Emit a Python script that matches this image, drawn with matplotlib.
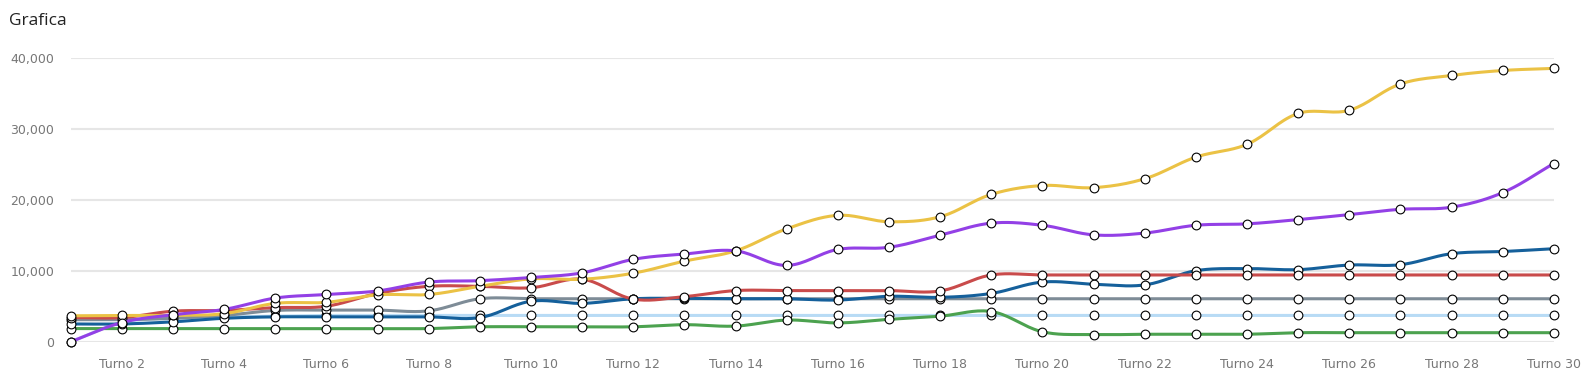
import matplotlib.pyplot as plt
import numpy as np

turns = list(range(1, 31))
tick_turns = list(range(2, 31, 2))
tick_labels = ['Turno %d' % t for t in tick_turns]

yellow = [3650, 3700, 3700, 3950, 5400, 5550, 6600, 6650, 7800, 8850,
          8800, 9650, 11350, 12800, 15900, 17800, 16900, 17600, 20750, 22000,
          21700, 22950, 26000, 27800, 32150, 32600, 36300, 37500, 38200, 38500]
purple = [0, 2700, 3800, 4550, 6150, 6650, 7150, 8400, 8600, 9050,
          9700, 11600, 12350, 12800, 10750, 13000, 13300, 15000, 16700, 16400,
          15050, 15300, 16400, 16600, 17200, 17900, 18650, 18950, 21000, 25100]
darkblue = [2500, 2500, 2800, 3300, 3500, 3500, 3500, 3500, 3400, 5700,
            5400, 6050, 6100, 6050, 6050, 5870, 6400, 6250, 6800, 8400,
            8100, 8000, 10000, 10300, 10150, 10800, 10850, 12400, 12700, 13100]
red = [3400, 3400, 4300, 4400, 4800, 5000, 6800, 7800, 7800, 7600,
       8800, 6000, 6350, 7200, 7200, 7200, 7200, 7150, 9400, 9400,
       9400, 9400, 9400, 9400, 9400, 9400, 9400, 9400, 9400, 9400]
gray = [3100, 3100, 3300, 3700, 4400, 4450, 4450, 4350, 6050, 6050,
        6050, 6050, 6050, 6050, 6050, 6050, 6050, 6050, 6050, 6050,
        6050, 6050, 6050, 6050, 6050, 6050, 6050, 6050, 6050, 6050]
lightblue = [0, 2700, 3300, 3500, 3600, 3700, 3700, 3700, 3700, 3700,
             3700, 3700, 3700, 3700, 3700, 3700, 3700, 3700, 3700, 3700,
             3700, 3700, 3700, 3700, 3700, 3700, 3700, 3700, 3700, 3700]
green = [1850, 1850, 1850, 1850, 1850, 1850, 1850, 1850, 2100, 2100,
         2100, 2100, 2400, 2200, 3050, 2650, 3150, 3600, 4250, 1400,
         1000, 1050, 1050, 1050, 1270, 1270, 1270, 1270, 1270, 1270]

series = [
    (lightblue, '#b8dbf5'),
    (green, '#4ca24f'),
    (gray, '#7e8c97'),
    (darkblue, '#15609b'),
    (red, '#c94b4b'),
    (yellow, '#ebc245'),
    (purple, '#9340e6'),
]

# pixel scale used for the Chart.js-like spline tension
SX, SY = 51.14, 71.0 / 10000


def spline(xs, ys, t=0.35, n=20):
    px = np.array(xs, float) * SX
    py = np.array(ys, float) * SY
    m = len(px)
    cp1 = np.zeros((m, 2))
    cp2 = np.zeros((m, 2))
    for i in range(m):
        p0 = (px[max(i - 1, 0)], py[max(i - 1, 0)])
        p1 = (px[i], py[i])
        p2 = (px[min(i + 1, m - 1)], py[min(i + 1, m - 1)])
        d01 = np.hypot(p1[0] - p0[0], p1[1] - p0[1])
        d12 = np.hypot(p2[0] - p1[0], p2[1] - p1[1])
        s = d01 + d12
        s01 = d01 / s if s else 0
        s12 = d12 / s if s else 0
        fa, fb = t * s01, t * s12
        cp1[i] = (p1[0] - fa * (p2[0] - p0[0]), p1[1] - fa * (p2[1] - p0[1]))
        cp2[i] = (p1[0] + fb * (p2[0] - p0[0]), p1[1] + fb * (p2[1] - p0[1]))
    u = np.linspace(0, 1, n)[:, None]
    out = []
    for i in range(m - 1):
        a = np.array([px[i], py[i]])
        b = cp2[i]
        c = cp1[i + 1]
        d = np.array([px[i + 1], py[i + 1]])
        seg = (1 - u) ** 3 * a + 3 * (1 - u) ** 2 * u * b + 3 * (1 - u) * u ** 2 * c + u ** 3 * d
        out.append(seg if i == 0 else seg[1:])
    out = np.vstack(out)
    return out[:, 0] / SX, out[:, 1] / SY


fig = plt.figure(figsize=(15.87, 3.76), dpi=100)
ax = fig.add_axes([0.0446, 0.0912, 0.9345, 0.7553])

for k, (vals, col) in enumerate(series):
    sx, sy = spline(turns, vals)
    ax.plot(sx, sy, color=col, lw=2.2, zorder=3 + 2 * k, solid_capstyle='round', clip_on=False)
    ax.plot(turns, vals, 'o', ms=6.3, mfc='white', mec='black', mew=0.8,
            zorder=4 + 2 * k, clip_on=False)

ax.set_xlim(1, 30)
ax.set_ylim(0, 40000)
ax.set_yticks([0, 10000, 20000, 30000, 40000])
ax.set_yticklabels(['0', '10,000', '20,000', '30,000', '40,000'])
ax.set_xticks(tick_turns)
ax.set_xticklabels(tick_labels)
ax.tick_params(axis='both', length=0, labelsize=9, labelcolor='#777777')
ax.tick_params(axis='y', pad=12)
ax.tick_params(axis='x', pad=12)
ax.grid(axis='y', color='#e6e6e6', lw=1.5)
ax.set_axisbelow(True)
for s in ax.spines.values():
    s.set_visible(False)

fig.text(0.0057, 0.945, 'Grafica', fontsize=12.5, color='#222222', va='center', ha='left',
         family='Open Sans')

fig.savefig('out.png', dpi=100)
